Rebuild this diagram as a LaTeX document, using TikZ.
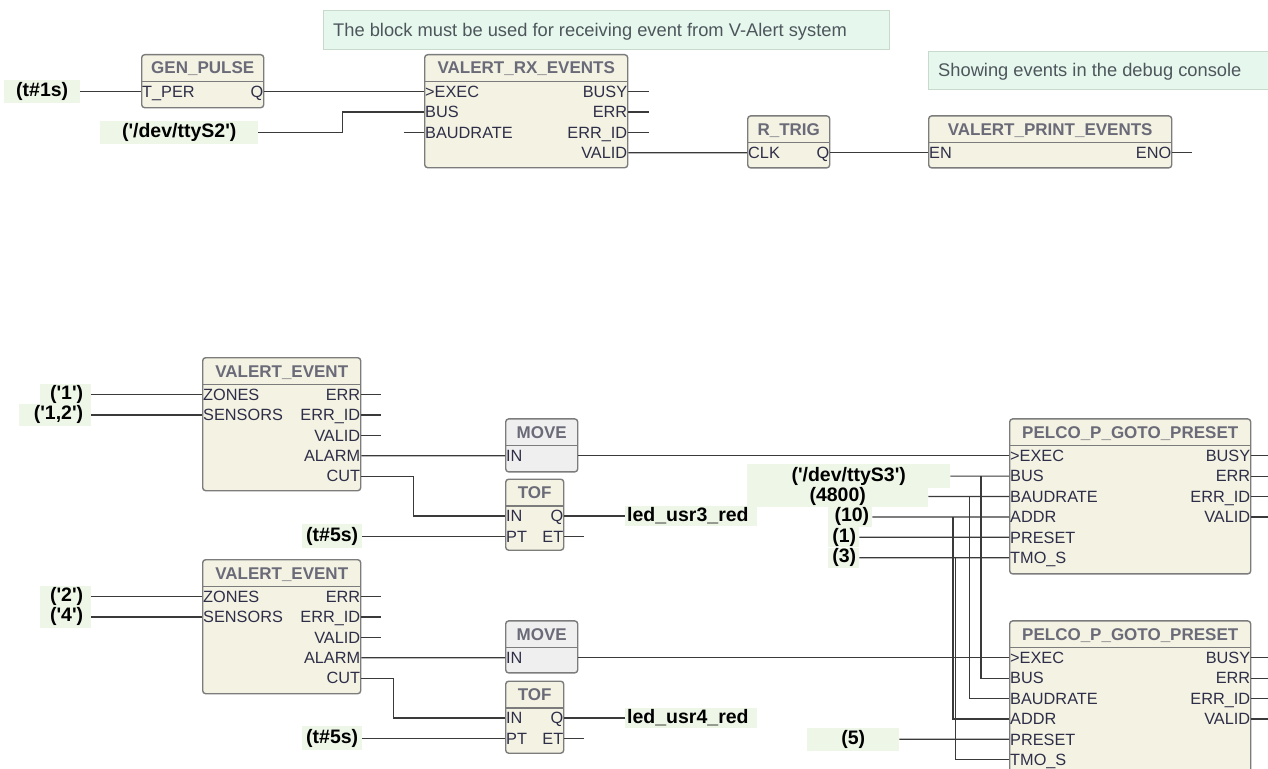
\documentclass[tikz,border=0pt]{standalone}
\usepackage{fontspec}
\setmainfont{Liberation Sans}
\usetikzlibrary{calc}
\definecolor{wire}{HTML}{3A3A3A}
\definecolor{blkfill}{HTML}{F3F2E3}
\definecolor{movefill}{HTML}{EFEFEF}
\definecolor{blkdraw}{HTML}{7C7C7C}
\definecolor{titlecol}{HTML}{6A6A78}
\definecolor{pincol}{HTML}{2E2E48}
\definecolor{constbg}{HTML}{EEF7E7}
\definecolor{cmtfill}{HTML}{E6F8EE}
\definecolor{cmtdraw}{HTML}{C8DACC}
\definecolor{cmttextcol}{HTML}{4E565C}
\newcommand\sq{\textquotesingle}
\tikzset{
  wirel/.style={draw=wire, line width=1.2pt},
  blockbox/.style={draw=blkdraw, line width=1.4pt, rounded corners=3pt, inner sep=0pt},
  divline/.style={draw=blkdraw, line width=1.2pt},
  titletext/.style={text=titlecol, font=\fontsize{17}{19}\selectfont\bfseries, inner sep=0pt, text height=12pt, text depth=0pt},
  pinl/.style={text=pincol, font=\fontsize{16.3}{18}\selectfont, inner sep=0pt, text height=11.6pt, text depth=0pt, anchor=west, xshift=1pt},
  pinr/.style={text=pincol, font=\fontsize{16.3}{18}\selectfont, inner sep=0pt, text height=11.6pt, text depth=0pt, anchor=east, xshift=-1pt},
  consttext/.style={text=black, font=\fontsize{19.5}{21}\selectfont\bfseries, inner sep=0pt, text height=14pt, text depth=4pt},
  constn/.style={consttext, fill=constbg},
  constbox/.style={fill=constbg, inner sep=0pt},
  cmtbox/.style={fill=cmtfill, draw=cmtdraw, line width=1.2pt, inner sep=0pt},
  cmttxt/.style={text=cmttextcol, font=\fontsize{18.3}{20}\selectfont, inner sep=0pt, anchor=west, text height=13pt, text depth=0pt}
}
% block: name, left, top, width, height, title, fill
\newcommand\fbk[7]{%
  \node[blockbox, fill=#7, minimum width=#4pt, minimum height=#5pt, anchor=north west] (#1) at (#2,#3) {};
  \draw[divline] ($(#1.north west)+(0,27.5)$) -- ($(#1.north east)+(0,27.5)$);
  \node[titletext] (#1-t) at ($(#1.north)+(0,14)$) {#6};
}
\newcommand\pinin[3]{%
  \coordinate (#1-i#2) at ($(#1.north west)+(0,{37.5+20.4*(#2-1)})$);
  \node[pinl] (#1-il#2) at (#1-i#2) {#3};
}
\newcommand\pinout[3]{%
  \coordinate (#1-o#2) at ($(#1.north east)+(0,{37.5+20.4*(#2-1)})$);
  \node[pinr] (#1-ol#2) at (#1-o#2) {#3};
}
% centered constant: name, xwest, y, width, height, text
\newcommand\cst[6]{%
  \node[constn, anchor=west, minimum width=#4pt, minimum height=#5pt] (#1) at (#2,#3) {#6};
}
% right aligned constant: name, xwest, y, width, height, pad, text
\newcommand\cstr[7]{%
  \node[constbox, anchor=west, minimum width=#4pt, minimum height=#5pt] (#1) at (#2,#3) {};
  \node[consttext, anchor=east] (#1-t) at ($(#1.east)+(-#6,0)$) {#7};
}
% left aligned constant
\newcommand\cstl[7]{%
  \node[constbox, anchor=west, minimum width=#4pt, minimum height=#5pt] (#1) at (#2,#3) {};
  \node[consttext, anchor=west] (#1-t) at ($(#1.west)+(#6,0)$) {#7};
}
\begin{document}
\begin{tikzpicture}[x=1pt,y=-1pt]
\useasboundingbox (0,0) rectangle (1268,768);
\fill[white] (0,0) rectangle (1268,768);
\clip (0,0) rectangle (1268,768);

% comments
\node[cmtbox, minimum width=566pt, minimum height=39pt, anchor=north west] (cm1) at (323,10) {};
\node[cmttxt] (cm1t) at (333,30) {The block must be used for receiving event from V-Alert system};
\node[cmtbox, minimum width=360pt, minimum height=38pt, anchor=north west] (cm2) at (928,51) {};
\node[cmttxt] (cm2t) at (938,70.5) {Showing events in the debug console};

% ---------- top row ----------
\fbk{gp}{141}{54}{122}{53}{GEN\_PULSE}{blkfill}
\pinin{gp}{1}{T\_PER}
\pinout{gp}{1}{Q}

\fbk{rx}{424}{54}{203}{113}{VALERT\_RX\_EVENTS}{blkfill}
\pinin{rx}{1}{>EXEC}
\pinin{rx}{2}{BUS}
\pinin{rx}{3}{BAUDRATE}
\pinout{rx}{1}{BUSY}
\pinout{rx}{2}{ERR}
\pinout{rx}{3}{ERR\_ID}
\pinout{rx}{4}{VALID}

\fbk{rt}{747}{115.2}{82}{52}{R\_TRIG}{blkfill}
\pinin{rt}{1}{CLK}
\pinout{rt}{1}{Q}

\fbk{pe}{928}{115.2}{243}{52}{VALERT\_PRINT\_EVENTS}{blkfill}
\pinin{pe}{1}{EN}
\pinout{pe}{1}{ENO}

\cst{ct1}{4}{91.5}{76}{23}{(t\#1s)}
\cst{ct2}{100}{132.3}{158}{23}{(\sq/dev/ttyS2\sq)}

% ---------- middle group ----------
\fbk{va}{202}{357}{158}{133}{VALERT\_EVENT}{blkfill}
\pinin{va}{1}{ZONES}
\pinin{va}{2}{SENSORS}
\pinout{va}{1}{ERR}
\pinout{va}{2}{ERR\_ID}
\pinout{va}{3}{VALID}
\pinout{va}{4}{ALARM}
\pinout{va}{5}{CUT}

\fbk{ma}{505}{418.2}{72}{53}{MOVE}{movefill}
\pinin{ma}{1}{IN}

\fbk{ta}{505}{478.5}{58}{71}{TOF}{blkfill}
\pinin{ta}{1}{IN}
\pinin{ta}{2}{PT}
\pinout{ta}{1}{Q}
\pinout{ta}{2}{ET}

\fbk{pa}{1009}{418.2}{241}{155}{PELCO\_P\_GOTO\_PRESET}{blkfill}
\pinin{pa}{1}{>EXEC}
\pinin{pa}{2}{BUS}
\pinin{pa}{3}{BAUDRATE}
\pinin{pa}{4}{ADDR}
\pinin{pa}{5}{PRESET}
\pinin{pa}{6}{TMO\_S}
\pinout{pa}{1}{BUSY}
\pinout{pa}{2}{ERR}
\pinout{pa}{3}{ERR\_ID}
\pinout{pa}{4}{VALID}

\cstr{cz1}{40}{394.5}{51}{22}{8}{(\sq1\sq)}
\cstr{cs1}{19}{414.9}{72}{22}{8}{(\sq1,2\sq)}
\cstr{tt1}{302}{536.4}{60}{24}{4}{(t\#5s)}
\cstl{led3}{625}{516}{132}{20}{2}{led\_usr3\_red}
\cst{s3}{747}{476.1}{203}{24}{(\sq/dev/ttyS3\sq)}
\cst{b48}{747}{496.5}{181}{20}{(4800)}
\cstr{a10}{828}{516.9}{44}{20}{3}{(10)}
\cstr{pr1}{828}{537.3}{31}{20}{3}{(1)}
\cstr{t3}{828}{557.7}{31}{20}{3}{(3)}

% ---------- bottom group ----------
\fbk{vb}{202}{559}{158}{134}{VALERT\_EVENT}{blkfill}
\pinin{vb}{1}{ZONES}
\pinin{vb}{2}{SENSORS}
\pinout{vb}{1}{ERR}
\pinout{vb}{2}{ERR\_ID}
\pinout{vb}{3}{VALID}
\pinout{vb}{4}{ALARM}
\pinout{vb}{5}{CUT}

\fbk{mb}{505}{620.2}{72}{52}{MOVE}{movefill}
\pinin{mb}{1}{IN}

\fbk{tb}{505}{680.5}{58}{72}{TOF}{blkfill}
\pinin{tb}{1}{IN}
\pinin{tb}{2}{PT}
\pinout{tb}{1}{Q}
\pinout{tb}{2}{ET}

\fbk{pb}{1009}{620.2}{241}{165}{PELCO\_P\_GOTO\_PRESET}{blkfill}
\pinin{pb}{1}{>EXEC}
\pinin{pb}{2}{BUS}
\pinin{pb}{3}{BAUDRATE}
\pinin{pb}{4}{ADDR}
\pinin{pb}{5}{PRESET}
\pinin{pb}{6}{TMO\_S}
\pinout{pb}{1}{BUSY}
\pinout{pb}{2}{ERR}
\pinout{pb}{3}{ERR\_ID}
\pinout{pb}{4}{VALID}

\cstr{cz2}{40}{596.5}{51}{22}{8}{(\sq2\sq)}
\cstr{cs2}{40}{616.9}{51}{22}{8}{(\sq4\sq)}
\cstr{tt2}{302}{738.4}{60}{24}{4}{(t\#5s)}
\cstl{led4}{625}{718}{132}{20}{2}{led\_usr4\_red}
\cst{n5}{807}{739.3}{92}{23}{(5)}

% ---------- wires ----------
% top
\draw[wirel] (ct1.east) -- (gp-i1);
\draw[wirel] (gp-o1) -- (rx-i1);
\draw[wirel] (ct2.east) -- ++(84,0) |- (rx-i2);
\draw[wirel] (rx-i3) -- ++(-20,0);
\draw[wirel] (rx-o1) -- ++(21,0);
\draw[wirel] (rx-o2) -- ++(21,0);
\draw[wirel] (rx-o3) -- ++(21,0);
\draw[wirel] (rx-o4) -- (rt-i1);
\draw[wirel] (rt-o1) -- (pe-i1);
\draw[wirel] (pe-o1) -- ++(20,0);
% middle
\draw[wirel] (cz1.east) -- (va-i1);
\draw[wirel] (cs1.east) -- (va-i2);
\draw[wirel] (va-o1) -- ++(20,0);
\draw[wirel] (va-o2) -- ++(20,0);
\draw[wirel] (va-o3) -- ++(20,0);
\draw[wirel] (va-o4) -- (ma-i1);
\draw[wirel] (va-o5) -- ++(52,0) |- (ta-i1);
\draw[wirel] (tt1.east) -- (ta-i2);
\draw[wirel] (ta-o1) -- (led3.west);
\draw[wirel] (ta-o2) -- ++(20,0);
\draw[wirel] (ma.east |- ma-i1) -- (pa-i1);
\draw[wirel] (s3.east) -- (pa-i2);
\draw[wirel] (b48.east) -- (pa-i3);
\draw[wirel] (a10.east) -- (pa-i4);
\draw[wirel] (pr1.east) -- (pa-i5);
\draw[wirel] (t3.east) -- (pa-i6);
\draw[wirel] (pa-o1) -- ++(20,0);
\draw[wirel] (pa-o2) -- ++(20,0);
\draw[wirel] (pa-o3) -- ++(20,0);
\draw[wirel] (pa-o4) -- ++(20,0);
% shared inputs to lower PELCO block
\draw[wirel] ($(pa-i2)+(-28,0)$) |- (pb-i2);
\draw[wirel] ($(pa-i3)+(-39.5,0)$) |- (pb-i3);
\draw[wirel] ($(pa-i4)+(-56,0)$) |- (pb-i4);
\draw[wirel] ($(pa-i6)+(-53.5,0)$) |- (pb-i6);
% bottom
\draw[wirel] (cz2.east) -- (vb-i1);
\draw[wirel] (cs2.east) -- (vb-i2);
\draw[wirel] (vb-o1) -- ++(20,0);
\draw[wirel] (vb-o2) -- ++(20,0);
\draw[wirel] (vb-o3) -- ++(20,0);
\draw[wirel] (vb-o4) -- (mb-i1);
\draw[wirel] (vb-o5) -- ++(32,0) |- (tb-i1);
\draw[wirel] (tt2.east) -- (tb-i2);
\draw[wirel] (tb-o1) -- (led4.west);
\draw[wirel] (tb-o2) -- ++(20,0);
\draw[wirel] (mb.east |- mb-i1) -- (pb-i1);
\draw[wirel] (n5.east) -- (pb-i5);
\draw[wirel] (pb-o1) -- ++(20,0);
\draw[wirel] (pb-o2) -- ++(20,0);
\draw[wirel] (pb-o3) -- ++(20,0);
\draw[wirel] (pb-o4) -- ++(20,0);
\end{tikzpicture}
\end{document}
